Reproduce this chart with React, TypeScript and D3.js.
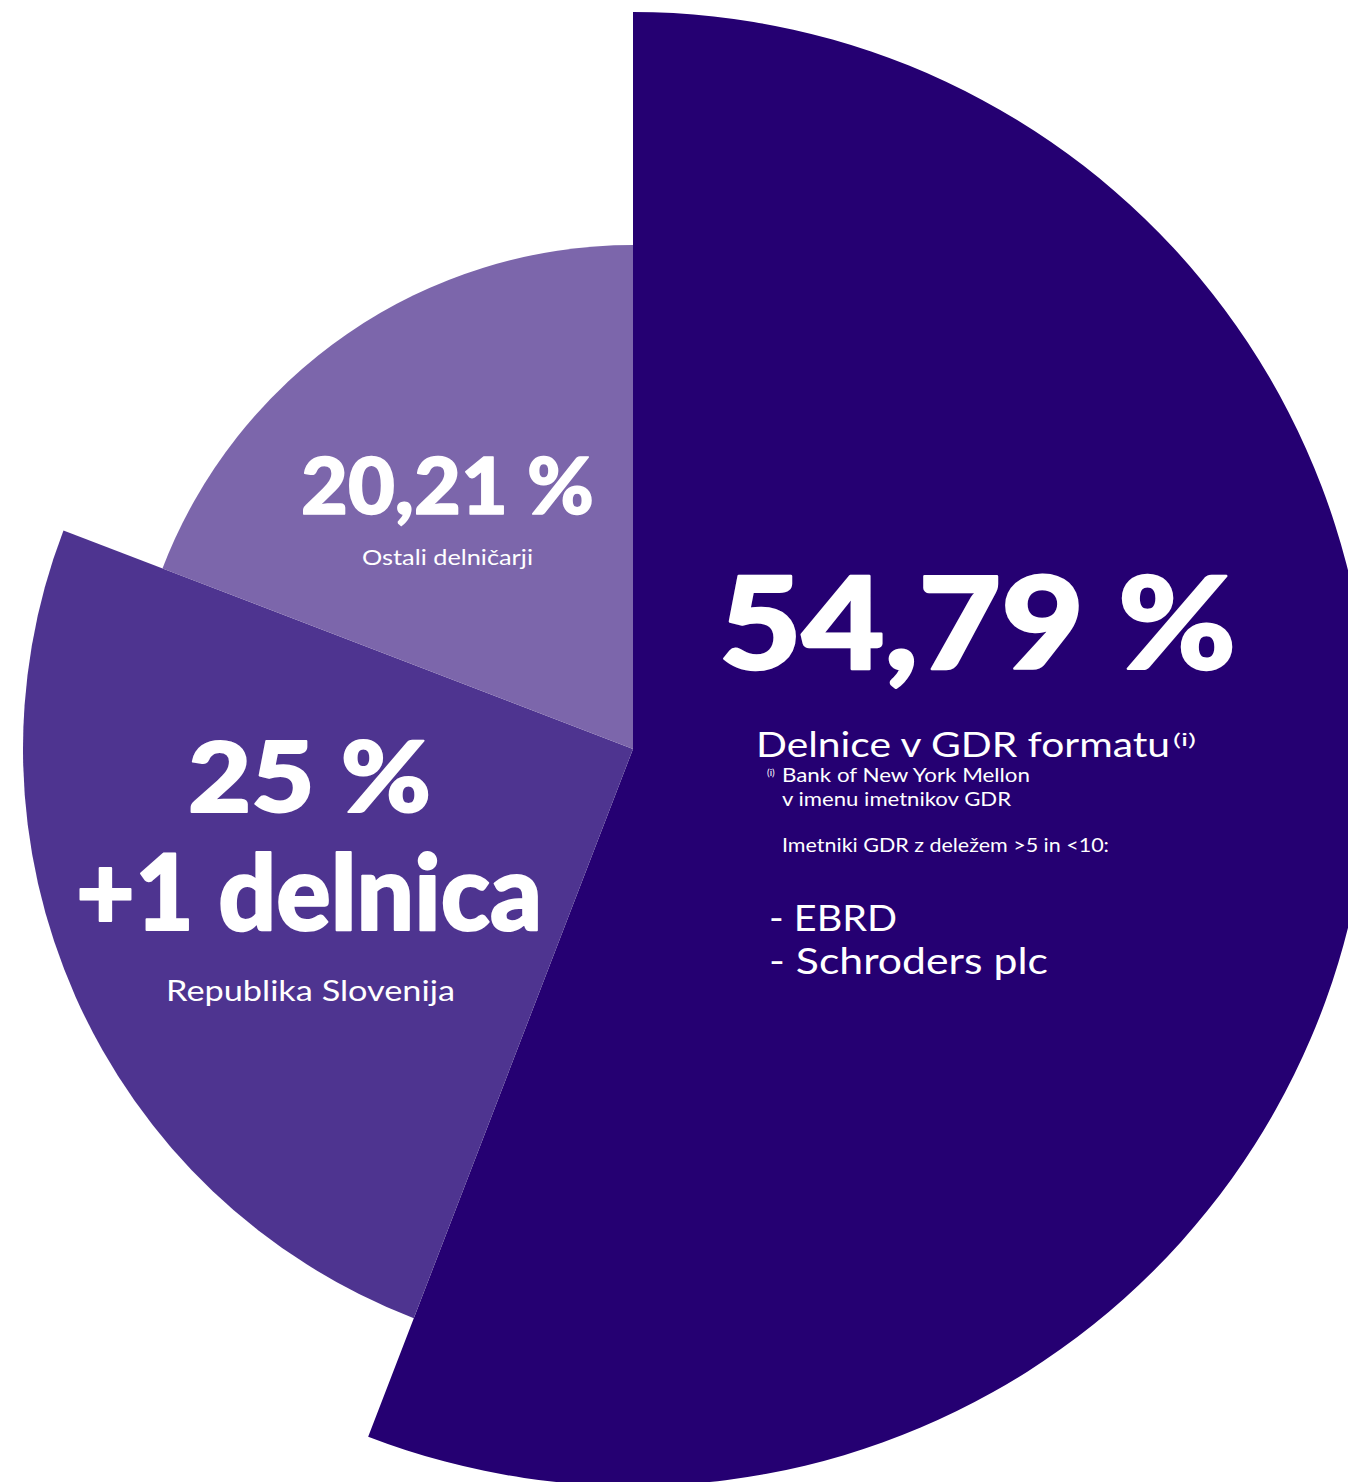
import React from "react";
import * as d3 from "d3";

// Slice shares as drawn (arc angle share, %), outer radii, colours
const sliceNames = ["Delnice v GDR formatu", "Republika Slovenija", "Ostali delničarji"];
const sliceShares = [55.85, 24.98, 19.17];
const sliceRadii = [737, 610, 504];
const sliceColors = ["#250072", "#4e3490", "#7c66ab"];
const percentLabels = ["54,79 %", "25 %", "20,21 %"];
const gdrHolders = ["- EBRD", "- Schroders plc"];
const gdrHolderWidths = [128, 279];

const W = 1348;
const H = 1482;
const CX = 633;
const CY = 749;
const FONT = "Lato, 'Open Sans', sans-serif";

export default function App() {
  const pie = d3
    .pie<number>()
    .sort(null)
    .value((d) => d)
    .startAngle(0)
    .endAngle(2 * Math.PI);
  const arcs = pie(sliceShares);
  const arcGen = d3
    .arc<d3.PieArcDatum<number>>()
    .innerRadius(0)
    .outerRadius((d) => sliceRadii[d.index]);

  const LA = "spacingAndGlyphs";

  return (
    <svg
      width={W}
      height={H}
      style={{ position: "absolute", left: 0, top: 0, display: "block" }}
    >
      <rect x={0} y={0} width={W} height={H} fill="#ffffff" />
      <g transform={`translate(${CX},${CY})`}>
        {arcs.map((a, i) => (
          <path key={sliceNames[i]} d={arcGen(a) || ""} fill={sliceColors[i]} />
        ))}
      </g>
      <g fill="#ffffff" fontFamily={FONT}>
        {/* Big slice */}
        <text x={719} y={669} fontSize={128} fontWeight={900} stroke="#ffffff" strokeWidth={2.5} strokeLinejoin="round" textLength={517} lengthAdjust={LA}>
          {percentLabels[0]}
        </text>
        <text x={756} y={757} fontSize={34} textLength={414} lengthAdjust={LA}>
          {sliceNames[0]}
        </text>
        <text x={1173} y={746} fontSize={18} textLength={23} lengthAdjust={LA}>(i)</text>
        <text x={767} y={776} fontSize={10}>(i)</text>
        <text x={782} y={782} fontSize={20} textLength={248} lengthAdjust={LA}>
          Bank of New York Mellon
        </text>
        <text x={782} y={806} fontSize={20} textLength={229} lengthAdjust={LA}>
          v imenu imetnikov GDR
        </text>
        <text x={782} y={852} fontSize={19} textLength={327} lengthAdjust={LA}>
          Imetniki GDR z deležem &gt;5 in &lt;10:
        </text>
        {gdrHolders.map((h, i) => (
          <text key={h} x={769} y={931 + i * 43} fontSize={37} textLength={gdrHolderWidths[i]} lengthAdjust={LA}>
            {h}
          </text>
        ))}
        {/* Mid slice */}
        <text x={188} y={812} fontSize={98} fontWeight={900} stroke="#ffffff" strokeWidth={2} strokeLinejoin="round" textLength={243} lengthAdjust={LA}>
          {percentLabels[1]}
        </text>
        <text x={76} y={930} fontSize={104} fontWeight={900} stroke="#ffffff" strokeWidth={2} strokeLinejoin="round" textLength={466} lengthAdjust={LA}>
          +1 delnica
        </text>
        <text x={166} y={1001} fontSize={29} textLength={289} lengthAdjust={LA}>
          {sliceNames[1]}
        </text>
        {/* Small slice */}
        <text x={301} y={514} fontSize={78} fontWeight={900} stroke="#ffffff" strokeWidth={1.5} strokeLinejoin="round" textLength={293} lengthAdjust={LA}>
          {percentLabels[2]}
        </text>
        <text x={362} y={565} fontSize={21} textLength={171} lengthAdjust={LA}>
          {sliceNames[2]}
        </text>
      </g>
    </svg>
  );
}
